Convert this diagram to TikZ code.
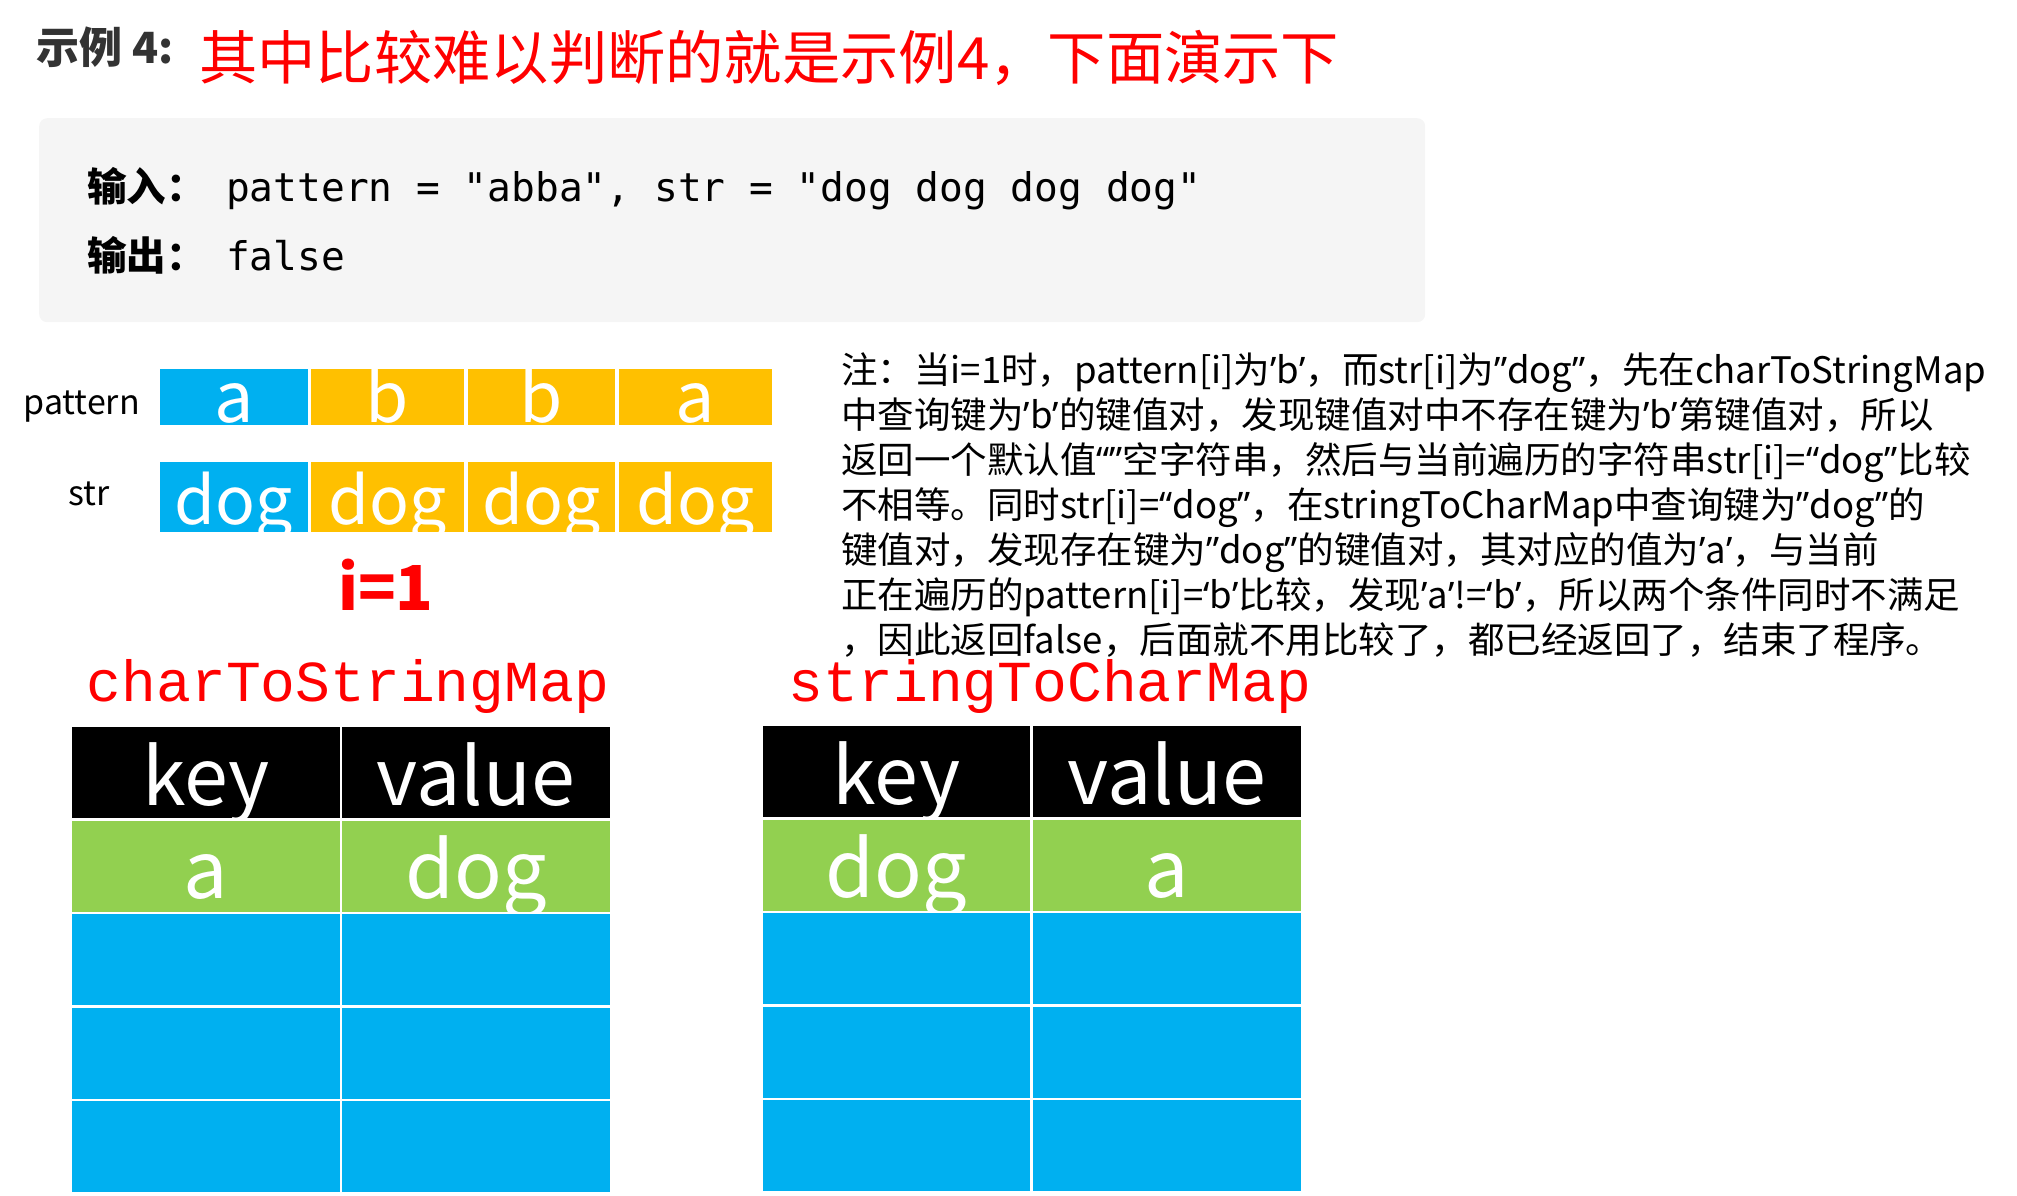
\documentclass[tikz,border=0pt]{standalone}
\usepackage{fontspec}
\setmainfont{Noto Sans CJK SC}
\setmonofont{DejaVu Sans Mono}
\newfontfamily\courfont{Liberation Mono}
\newfontfamily\latfont{Noto Sans}
\newcommand\Q[1]{{\latfont #1}}
\definecolor{cblue}{HTML}{00B0F0}
\definecolor{corange}{HTML}{FFC000}
\definecolor{cgreen}{HTML}{92D050}
\definecolor{cgray}{HTML}{F5F5F5}
\definecolor{cdark}{HTML}{333333}
\definecolor{cred}{HTML}{FF0000}
\tikzset{
  fs/.style={font=\fontsize{#1}{#1}\selectfont},
  cell/.style={inner sep=0pt, outer sep=0pt, text=white, anchor=north west},
  prow/.style={cell, minimum height=56, text height=53, text depth=3, font=\fontsize{70}{70}\selectfont},
  srow/.style={cell, minimum height=70, text height=62, text depth=8, font=\fontsize{66}{66}\selectfont},
  trow/.style={cell, minimum height=91, text height=78, text depth=13, font=\fontsize{79}{79}\selectfont},
  note/.style={anchor=base west, inner sep=0pt, font=\fontsize{36.5}{36.5}\selectfont},
  maptitle/.style={anchor=base, inner sep=0pt, text=cred, font=\courfont\fontsize{58}{58}\selectfont},
}
\begin{document}
\begin{tikzpicture}[x=1pt,y=-1pt]
\useasboundingbox (0,0) rectangle (2017,1195);

% header
\node[anchor=west, inner sep=0pt, text=cdark, font=\bfseries\fontsize{43}{43}\selectfont] (ex) at (36,47) {示例 4:};
\node[anchor=west, inner sep=0pt, text=cred, fs=58.3] (title) at (199,58) {其中比较难以判断的就是示例4，下面演示下};

% code box
\node[fill=cgray, rounded corners=8, minimum width=1386, minimum height=204, anchor=north west, inner sep=0pt] (box) at (39,118) {};
\node[anchor=base west, inner sep=0pt, font=\bfseries\fontsize{39.5}{40}\selectfont] (in) at (87,201) {输入：};
\node[anchor=base west, inner sep=0pt, font=\ttfamily\fontsize{39.5}{40}\selectfont] (inv) at (226,201) {pattern = "abba", str = "dog dog dog dog"};
\node[anchor=base west, inner sep=0pt, font=\bfseries\fontsize{39.5}{40}\selectfont] (out) at (87,270) {输出：};
\node[anchor=base west, inner sep=0pt, font=\ttfamily\fontsize{39.5}{40}\selectfont] (outv) at (226,270) {false};

% pattern / str rows
\node[anchor=base east, inner sep=0pt, fs=34] (plab) at (140,414) {pattern};
\node[anchor=base, inner sep=0pt, fs=34] (slab) at (89,505) {str};

\node[prow, fill=cblue,   minimum width=148] (p1) at (160,369) {a};
\node[prow, fill=corange, minimum width=153] (p2) at (311,369) {b};
\node[prow, fill=corange, minimum width=147] (p3) at (468,369) {b};
\node[prow, fill=corange, minimum width=153] (p4) at (619,369) {a};

\begin{scope}
\clip (160,462) rectangle (772,532);
\node[srow, fill=cblue,   minimum width=148] (s1) at (160,462) {dog};
\node[srow, fill=corange, minimum width=153] (s2) at (311,462) {dog};
\node[srow, fill=corange, minimum width=147] (s3) at (468,462) {dog};
\node[srow, fill=corange, minimum width=153] (s4) at (619,462) {dog};
\end{scope}

\node[anchor=base, inner sep=0pt, text=cred, font=\bfseries\fontsize{62}{62}\selectfont] (iv) at (386,610) {i=1};

% note
\node[note] (n1) at (841,383) {注：当i=1时，pattern[i]为\Q{’}b\Q{’}，而str[i]为\Q{”}dog\Q{”}，先在charToStringMap};
\node[note] (n2) at (841,428) {中查询键为\Q{’}b\Q{’}的键值对，发现键值对中不存在键为\Q{’}b\Q{’}第键值对，所以};
\node[note] (n3) at (841,473) {返回一个默认值\Q{“”}空字符串，然后与当前遍历的字符串str[i]=\Q{“}dog\Q{”}比较};
\node[note] (n4) at (841,518) {不相等。同时str[i]=\Q{“}dog\Q{”}，在stringToCharMap中查询键为\Q{”}dog\Q{”}的};
\node[note] (n5) at (841,563) {键值对，发现存在键为\Q{”}dog\Q{”}的键值对，其对应的值为\Q{’}a\Q{’}，与当前};
\node[note] (n6) at (841,608) {正在遍历的pattern[i]=\Q{‘}b\Q{’}比较，发现\Q{’}a\Q{’}!=\Q{‘}b\Q{’}，所以两个条件同时不满足};
\node[note] (n7) at (841,653) {，因此返回false，后面就不用比较了，都已经返回了，结束了程序。};

% map titles
\node[maptitle] (m1) at (348,701) {charToStringMap};
\node[maptitle] (m2) at (1050,701) {stringToCharMap};

% table 1
\node[trow, fill=black,  minimum width=268] (a11) at (72,727) {key};
\node[trow, fill=black,  minimum width=268] (a12) at (342,727) {value};
\node[trow, fill=cgreen, minimum width=268] (a21) at (72,820.5) {a};
\node[trow, fill=cgreen, minimum width=268] (a22) at (342,820.5) {dog};
\node[trow, fill=cblue,  minimum width=268] (a31) at (72,914) {};
\node[trow, fill=cblue,  minimum width=268] (a32) at (342,914) {};
\node[trow, fill=cblue,  minimum width=268] (a41) at (72,1007.5) {};
\node[trow, fill=cblue,  minimum width=268] (a42) at (342,1007.5) {};
\node[trow, fill=cblue,  minimum width=268] (a51) at (72,1101) {};
\node[trow, fill=cblue,  minimum width=268] (a52) at (342,1101) {};

% table 2
\node[trow, fill=black,  minimum width=267] (b11) at (763,726) {key};
\node[trow, fill=black,  minimum width=268] (b12) at (1033,726) {value};
\node[trow, fill=cgreen, minimum width=267] (b21) at (763,819.5) {dog};
\node[trow, fill=cgreen, minimum width=268] (b22) at (1033,819.5) {a};
\node[trow, fill=cblue,  minimum width=267] (b31) at (763,913) {};
\node[trow, fill=cblue,  minimum width=268] (b32) at (1033,913) {};
\node[trow, fill=cblue,  minimum width=267] (b41) at (763,1006.5) {};
\node[trow, fill=cblue,  minimum width=268] (b42) at (1033,1006.5) {};
\node[trow, fill=cblue,  minimum width=267] (b51) at (763,1100) {};
\node[trow, fill=cblue,  minimum width=268] (b52) at (1033,1100) {};
\end{tikzpicture}
\end{document}
